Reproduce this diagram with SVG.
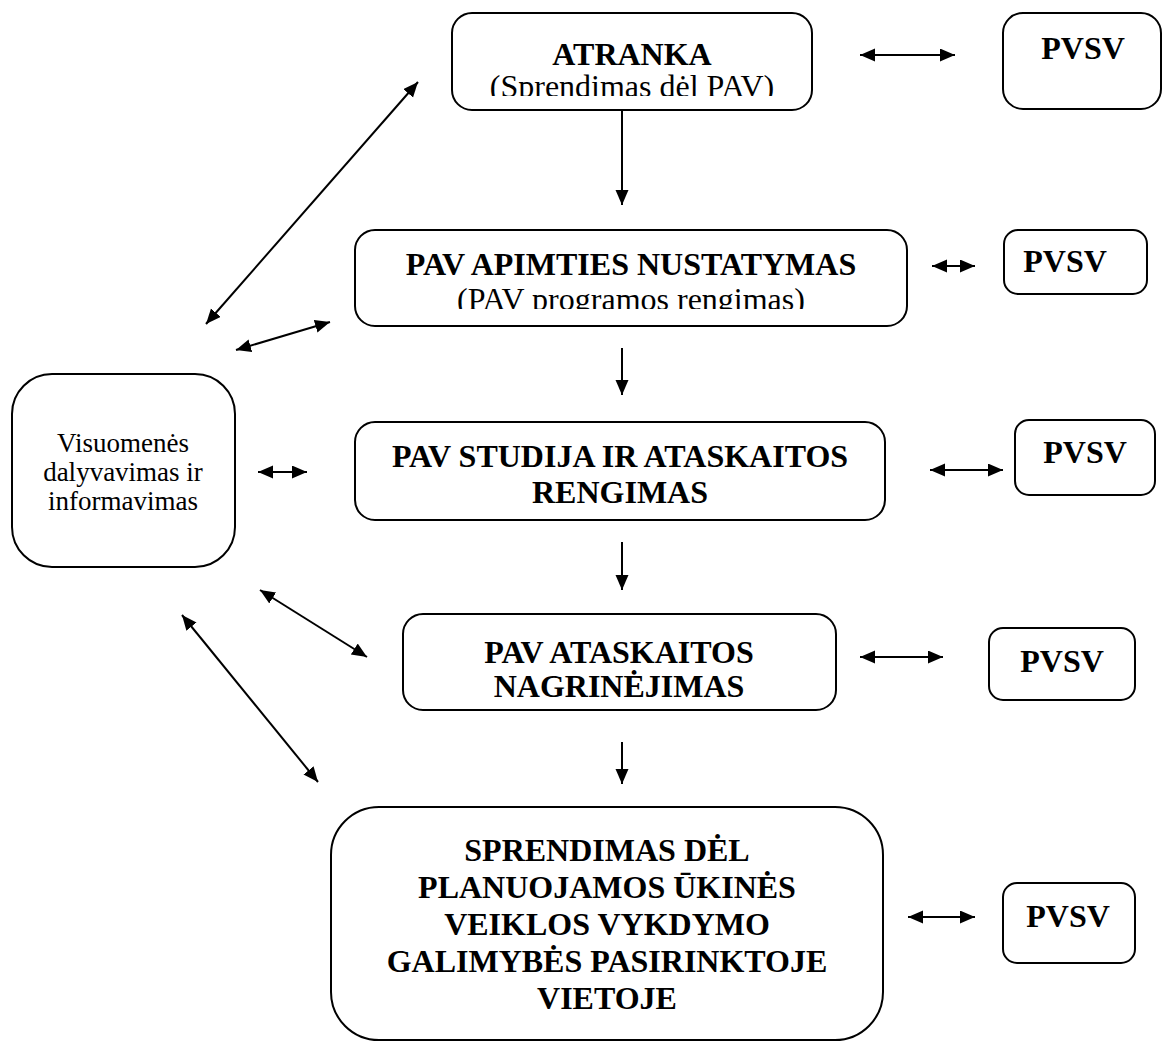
<svg xmlns="http://www.w3.org/2000/svg" width="1163" height="1043" viewBox="0 0 1163 1043">
<style>
.box{fill:#fff;stroke:#000;stroke-width:2}
.t{font-family:"Liberation Serif","Times New Roman",serif;font-size:32px;font-weight:bold;text-anchor:middle;fill:#000}
.s{font-family:"Liberation Serif","Times New Roman",serif;font-size:32px;text-anchor:middle;fill:#000}
.l{font-family:"Liberation Serif","Times New Roman",serif;font-size:27px;text-anchor:middle;fill:#000}
.c{stroke:#000;stroke-width:2;fill:none}
.d{marker-end:url(#ah)}
.b{marker-start:url(#ah);marker-end:url(#ah)}
</style>
<defs>
<marker id="ah" markerUnits="userSpaceOnUse" markerWidth="16" markerHeight="14" refX="15" refY="6.5" orient="auto-start-reverse">
<path d="M0,0 L15,6.5 L0,13 z" fill="#000"/>
</marker>
<clipPath id="clip1"><rect x="452" y="13" width="360" height="83"/></clipPath>
<clipPath id="clip2"><rect x="355" y="230" width="552" height="79"/></clipPath>
</defs>
<rect width="1163" height="1043" fill="#fff"/>
<g id="connectors">
<line class="c b" x1="860" y1="55" x2="955" y2="55"/>
<line class="c d" x1="622" y1="107" x2="622" y2="205"/>
<line class="c b" x1="932" y1="266" x2="975" y2="266"/>
<line class="c d" x1="622" y1="348" x2="622" y2="395"/>
<line class="c b" x1="930" y1="470" x2="1003" y2="470"/>
<line class="c d" x1="622" y1="542" x2="622" y2="590"/>
<line class="c b" x1="860" y1="657" x2="943" y2="657"/>
<line class="c d" x1="622" y1="742" x2="622" y2="784"/>
<line class="c b" x1="908" y1="917" x2="975" y2="917"/>
<line class="c b" x1="206" y1="324" x2="418" y2="82"/>
<line class="c b" x1="236" y1="350" x2="330" y2="322"/>
<line class="c b" x1="258" y1="472" x2="307" y2="472"/>
<line class="c b" x1="260" y1="590" x2="367" y2="657"/>
<line class="c b" x1="182" y1="615" x2="318" y2="782"/>
</g>
<g id="atranka">
<rect class="box" x="452" y="13" width="360" height="97" rx="20"/>
<text class="t" x="632" y="65">ATRANKA</text>
<text class="s" x="632" y="97" clip-path="url(#clip1)">(Sprendimas dėl PAV)</text>
</g>
<g id="pvsv1">
<rect class="box" x="1003" y="13" width="158" height="96" rx="20"/>
<text class="t" x="1083" y="59">PVSV</text>
</g>
<g id="apimtis">
<rect class="box" x="355" y="230" width="552" height="96" rx="20"/>
<text class="t" x="631" y="275">PAV APIMTIES NUSTATYMAS</text>
<text class="s" x="631" y="310" clip-path="url(#clip2)">(PAV programos rengimas)</text>
</g>
<g id="pvsv2">
<rect class="box" x="1004" y="230" width="143" height="64" rx="14"/>
<text class="t" x="1065" y="272">PVSV</text>
</g>
<g id="studija">
<rect class="box" x="355" y="422" width="530" height="98" rx="20"/>
<text class="t" x="620" y="467">PAV STUDIJA IR ATASKAITOS</text>
<text class="t" x="620" y="503">RENGIMAS</text>
</g>
<g id="pvsv3">
<rect class="box" x="1015" y="420" width="140" height="75" rx="14"/>
<text class="t" x="1085" y="463">PVSV</text>
</g>
<g id="nagrinejimas">
<rect class="box" x="403" y="614" width="433" height="96" rx="20"/>
<text class="t" x="619" y="663">PAV ATASKAITOS</text>
<text class="t" x="619" y="697">NAGRINĖJIMAS</text>
</g>
<g id="pvsv4">
<rect class="box" x="989" y="628" width="146" height="72" rx="14"/>
<text class="t" x="1062" y="672">PVSV</text>
</g>
<g id="sprendimas">
<rect class="box" x="331" y="807" width="552" height="233" rx="48"/>
<text class="t" x="607" y="861">SPRENDIMAS DĖL</text>
<text class="t" x="607" y="898">PLANUOJAMOS ŪKINĖS</text>
<text class="t" x="607" y="935">VEIKLOS VYKDYMO</text>
<text class="t" x="607" y="972">GALIMYBĖS PASIRINKTOJE</text>
<text class="t" x="607" y="1009">VIETOJE</text>
</g>
<g id="pvsv5">
<rect class="box" x="1003" y="883" width="132" height="80" rx="14"/>
<text class="t" x="1068" y="927">PVSV</text>
</g>
<g id="visuomene">
<rect class="box" x="12" y="374" width="223" height="193" rx="40"/>
<text class="l" x="123" y="452">Visuomenės</text>
<text class="l" x="123" y="481">dalyvavimas ir</text>
<text class="l" x="123" y="510">informavimas</text>
</g>
</svg>
